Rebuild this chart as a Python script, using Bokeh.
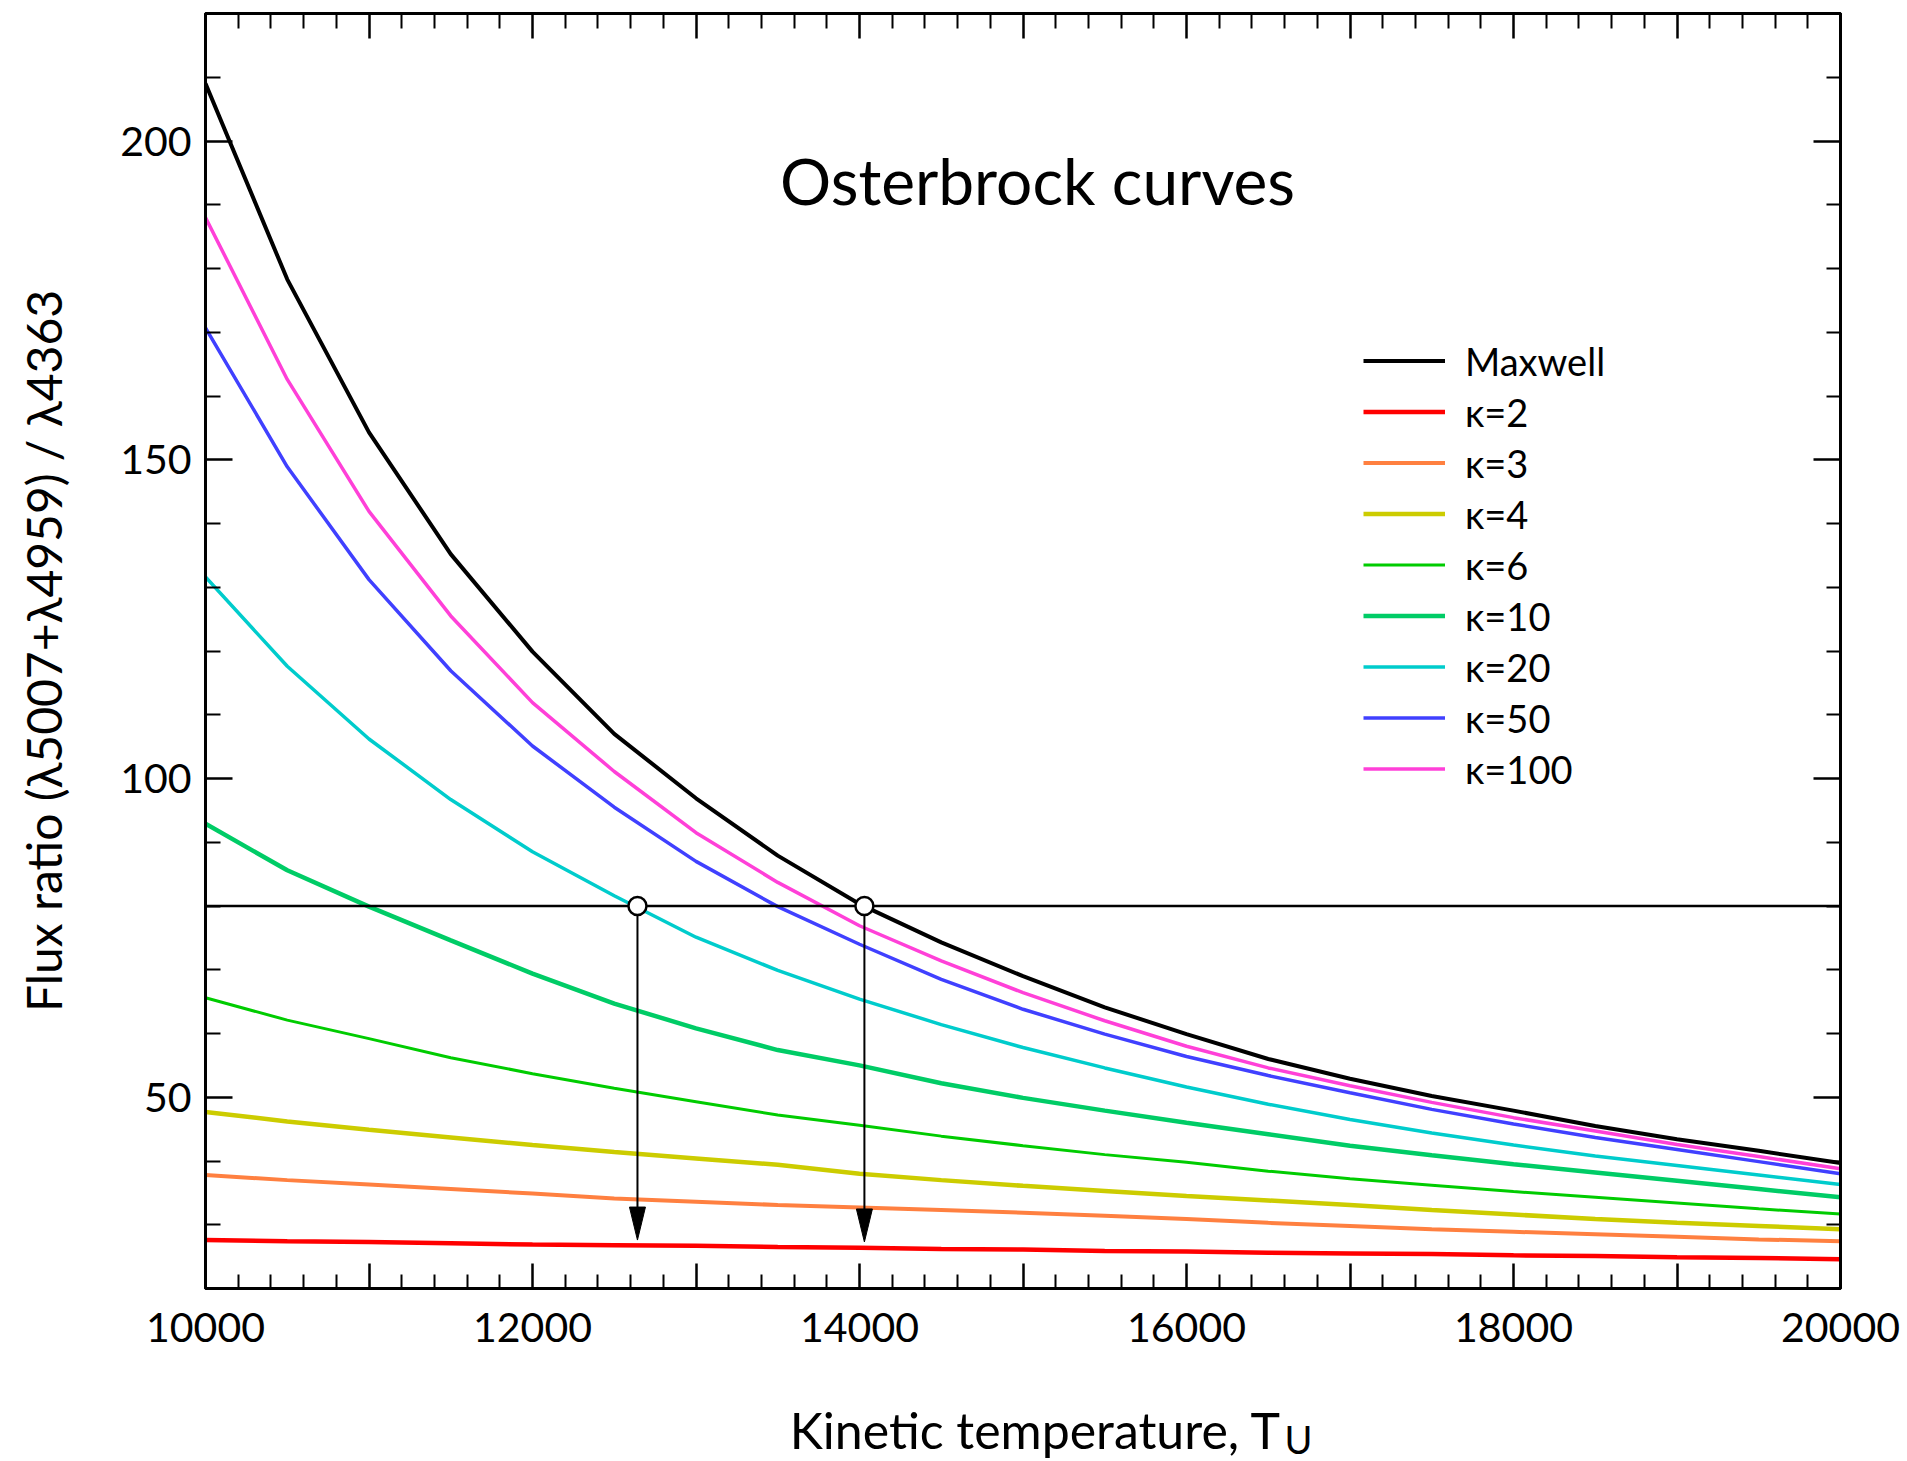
from bokeh.plotting import figure
from bokeh.layouts import column
from bokeh.models import (LinearAxis, FixedTicker, Range1d, Legend, LegendItem, Label,
                          Span, CustomJSTickFormatter)
from bokeh.embed import file_html
from bokeh.resources import INLINE

# ---------------- data ----------------
T = [10000, 10500, 11000, 11500, 12000, 12500, 13000, 13500, 14000, 14500, 15000,
     15500, 16000, 16500, 17000, 17500, 18000, 18500, 19000, 19500, 20000]

maxwell = [209.0, 178.3, 154.3, 135.2, 119.9, 107.0, 96.9, 87.9, 80.3, 74.3, 69.0,
           64.1, 59.9, 56.0, 52.9, 50.2, 47.9, 45.5, 43.4, 41.6, 39.7]
kappa2 = [27.6, 27.4, 27.3, 27.1, 26.9, 26.8, 26.7, 26.5, 26.4, 26.2, 26.1,
          25.9, 25.8, 25.6, 25.5, 25.4, 25.2, 25.1, 24.9, 24.8, 24.6]
kappa3 = [37.8, 37.0, 36.3, 35.6, 34.9, 34.1, 33.6, 33.1, 32.7, 32.3, 31.9,
          31.4, 30.9, 30.3, 29.8, 29.3, 28.9, 28.5, 28.1, 27.7, 27.4]
kappa4 = [47.7, 46.2, 44.9, 43.7, 42.5, 41.4, 40.4, 39.4, 38.0, 37.0, 36.1,
          35.3, 34.5, 33.8, 33.1, 32.3, 31.6, 30.9, 30.3, 29.8, 29.3]
kappa6 = [65.6, 62.1, 59.2, 56.2, 53.7, 51.4, 49.3, 47.2, 45.6, 43.9, 42.4,
          41.0, 39.8, 38.4, 37.2, 36.2, 35.2, 34.3, 33.4, 32.5, 31.7]
kappa10 = [92.9, 85.6, 79.9, 74.6, 69.4, 64.7, 60.8, 57.4, 55.0, 52.2, 49.9,
           47.9, 46.0, 44.2, 42.4, 40.9, 39.5, 38.2, 36.9, 35.6, 34.3]
kappa20 = [131.6, 117.6, 106.2, 96.7, 88.5, 81.6, 75.1, 69.9, 65.4, 61.4, 57.8,
           54.6, 51.6, 48.9, 46.5, 44.4, 42.5, 40.8, 39.3, 37.8, 36.3]
kappa50 = [170.7, 148.9, 131.2, 116.9, 105.1, 95.5, 87.0, 79.9, 74.0, 68.5, 63.8,
           59.9, 56.4, 53.4, 50.7, 48.1, 45.8, 43.7, 41.8, 39.9, 38.0]
kappa100 = [188.0, 162.6, 141.9, 125.5, 111.9, 101.1, 91.5, 83.7, 76.9, 71.4, 66.4,
            62.0, 58.0, 54.6, 51.8, 49.2, 46.8, 44.7, 42.6, 40.7, 38.8]

series_names = ["Maxwell", "κ=2", "κ=3", "κ=4", "κ=6", "κ=10", "κ=20", "κ=50", "κ=100"]
series_values = [maxwell, kappa2, kappa3, kappa4, kappa6, kappa10, kappa20, kappa50, kappa100]
series_colors = ["#000000", "#ff0000", "#ff8040", "#cccc00", "#00cc00", "#00cc66",
                 "#00cccc", "#4040ff", "#ff40d8"]
series_widths = [4, 4.5, 4, 4.5, 3, 4.5, 3.5, 3.5, 3.5]

observed_ratio = 80                      # horizontal line
marker_T = [12642, 14030]                # intersections with the line
arrow_tip = [27.6, 27.3]                 # where the arrows end

x_major = [10000, 11000, 12000, 13000, 14000, 15000, 16000, 17000, 18000, 19000, 20000]
x_minor = [t for t in range(10000, 20001, 200) if t % 1000 != 0]
y_major = [50, 100, 150, 200]
y_minor = [v for v in range(30, 220, 10) if v % 50 != 0]

X_START, X_END = 10000, 20000
Y_START, Y_END = 20, 220

FONT = "Lato"

# ---------------- layout constants (pixels) ----------------
FIG_W = 1907
PLOT_H = 1390
TITLE_H = 71
FRAME_L, FRAME_R, FRAME_T, FRAME_B = 205, 67, 13, 102
FRAME_W = FIG_W - FRAME_L - FRAME_R
FRAME_H = PLOT_H - FRAME_T - FRAME_B

# ---------------- figure ----------------
p = figure(width=FIG_W, height=PLOT_H, output_backend="svg", toolbar_location=None,
           x_range=Range1d(X_START, X_END), y_range=Range1d(Y_START, Y_END),
           x_axis_location=None, y_axis_location=None,
           min_border_left=FRAME_L, min_border_right=FRAME_R,
           min_border_top=FRAME_T, min_border_bottom=FRAME_B)
p.grid.visible = False
p.outline_line_color = "black"
p.outline_line_width = 3
p.background_fill_color = "white"
p.border_fill_color = "white"


def make_axis(ticker, major_in, minor_in, labelled, formatter=None):
    ax = LinearAxis(ticker=ticker, axis_line_color="black", axis_line_width=3,
                    major_tick_in=major_in, major_tick_out=0,
                    minor_tick_in=minor_in, minor_tick_out=0,
                    major_tick_line_color="black", minor_tick_line_color="black",
                    major_tick_line_width=2.5, minor_tick_line_width=2)
    if labelled:
        ax.major_label_text_font = FONT
        ax.major_label_text_font_size = "41px"
        ax.major_label_text_color = "black"
    else:
        ax.major_label_text_font_size = "0px"
        ax.major_label_standoff = 0
    if formatter is not None:
        ax.formatter = formatter
    return ax


even_fmt = CustomJSTickFormatter(code="return (tick % 2000 === 0) ? tick.toFixed(0) : '';")
blank_fmt = CustomJSTickFormatter(code="return '';")

bottom = make_axis(FixedTicker(ticks=x_major, minor_ticks=x_minor), 25, 14, True, even_fmt)
bottom.major_label_standoff = 24
top = make_axis(FixedTicker(ticks=x_major, minor_ticks=x_minor), 25, 15, False, blank_fmt)
left = make_axis(FixedTicker(ticks=y_major, minor_ticks=y_minor), 27, 15, True)
left.major_label_standoff = 14
left.axis_label = "Flux ratio (λ5007+λ4959) / λ4363"
left.axis_label_text_font = FONT
left.axis_label_text_font_size = "48px"
left.axis_label_text_font_style = "normal"
left.axis_label_text_color = "black"
left.axis_label_standoff = 45
right = make_axis(FixedTicker(ticks=y_major, minor_ticks=y_minor), 27, 14, False, blank_fmt)

p.add_layout(bottom, "below")
p.add_layout(top, "above")
p.add_layout(left, "left")
p.add_layout(right, "right")

# ---------------- curves ----------------
renderers = []
for name, vals, col, lw in zip(series_names, series_values, series_colors, series_widths):
    r = p.line(T, vals, line_color=col, line_width=lw)
    renderers.append((name, r))

# horizontal line
p.add_layout(Span(location=observed_ratio, dimension="width", line_color="black", line_width=2.5))

# arrows: shafts and narrow filled heads (head size given in pixels)
HEAD_LEN_PX, HEAD_W_PX = 33, 16
head_len = HEAD_LEN_PX * (Y_END - Y_START) / FRAME_H
head_half_w = 0.5 * HEAD_W_PX * (X_END - X_START) / FRAME_W
p.segment(x0=marker_T, y0=[observed_ratio] * len(marker_T), x1=marker_T,
          y1=[t + head_len for t in arrow_tip], line_color="black", line_width=2)
p.patches(xs=[[xt - head_half_w, xt + head_half_w, xt] for xt in marker_T],
          ys=[[t + head_len, t + head_len, t] for t in arrow_tip],
          fill_color="black", line_color="black", line_width=1)

# open circle markers
p.scatter(marker_T, [observed_ratio] * len(marker_T), size=18, fill_color="white",
          line_color="black", line_width=2.5, level="overlay")

# legend
legend = Legend(items=[LegendItem(label=n, renderers=[r]) for n, r in renderers],
                location=(1158, 494), glyph_width=82, glyph_height=51, label_height=51,
                label_standoff=20, spacing=0, padding=0, margin=0,
                border_line_color=None, background_fill_alpha=0,
                label_text_font=FONT, label_text_font_size="38px", label_text_color="black")
p.add_layout(legend)

# chart title inside the frame
p.add_layout(Label(x=832, y=FRAME_H - 167, x_units="screen", y_units="screen",
                   text="Osterbrock curves", text_align="center", text_baseline="middle",
                   text_font=FONT, text_font_size="64px", text_color="black"))

# ---------------- x-axis title strip (with subscript) ----------------
# same horizontal borders as the main plot, so its frame lines up with the plot frame;
# its y range is simply pixel rows counted from the strip bottom
q = figure(width=FIG_W, height=TITLE_H, output_backend="svg", toolbar_location=None,
           title=None, x_range=p.x_range, y_range=Range1d(0, TITLE_H),
           x_axis_location=None, y_axis_location=None,
           min_border_left=FRAME_L, min_border_right=FRAME_R,
           min_border_top=0, min_border_bottom=0)
q.grid.visible = False
q.outline_line_color = None
q.background_fill_color = "white"
q.border_fill_color = "white"
T_END_PX = 1076          # right end of the "T", measured from the frame's left edge
q.add_layout(Label(x=T_END_PX, y=32, x_units="screen", y_units="data",
                   text="Kinetic temperature, T", text_align="right", text_baseline="middle",
                   text_font=FONT, text_font_size="50px", text_color="black"))
q.add_layout(Label(x=T_END_PX + 3, y=23, x_units="screen", y_units="data", text="U",
                   text_align="left", text_baseline="middle",
                   text_font=FONT, text_font_size="38px", text_color="black"))

layout = column(p, q, spacing=0)
open("out.html", "w").write(file_html(layout, INLINE))
